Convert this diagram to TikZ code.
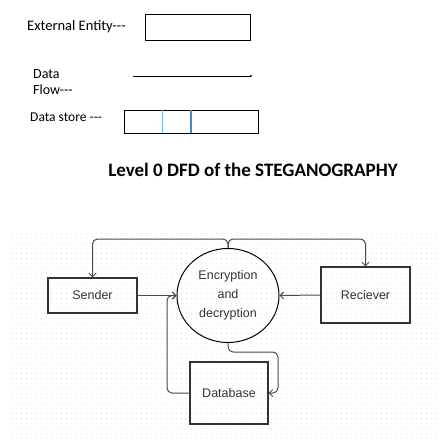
\documentclass[tikz,border=0pt]{standalone}
\usepackage{fontspec}
\setmainfont{Carlito}
\newfontfamily\diagfont{Liberation Sans}
\usetikzlibrary{arrows.meta,shapes.geometric}
\definecolor{linec}{HTML}{4A4A4A}
\definecolor{boxc}{HTML}{333333}
\definecolor{dotc}{HTML}{E4E4E4}
\definecolor{lblue}{HTML}{7FB2E5}
\definecolor{dblue}{HTML}{4A86C8}
\tikzset{
  legtext/.style={font=\fontsize{13.5}{15}\selectfont, anchor=west, inner sep=0pt},
  ent/.style={draw=boxc, line width=1.1pt, minimum width=89pt, minimum height=35pt, inner sep=0pt, font=\diagfont\fontsize{12.5}{14}\selectfont, text=boxc},
  conn/.style={draw=linec, line width=1pt, rounded corners=5pt},
  tip/.style={-{Straight Barb[length=3.5pt,width=7pt,line width=1pt]}}
}
\begin{document}
\begin{tikzpicture}[x=1pt,y=-1pt]
\useasboundingbox (0,0) rectangle (445,442);
% dotted grid
\foreach \yy in {233,238,...,438}
  \draw[dotc, line width=0.9pt, dash pattern=on 0.9pt off 4.1pt] (11,\yy) -- (440,\yy);
% legend
\node[legtext, font=\fontsize{14.5}{16}\selectfont] (lt1) at (27,27) {External Entity-{}-{}-};
\node[draw=black, line width=0.8pt, minimum width=105pt, minimum height=26pt, inner sep=0pt] (lb1) at (197.5,27) {};
\node[legtext, font=\fontsize{14}{15}\selectfont] (lt2) at (33,74) {Data};
\node[legtext, font=\fontsize{14}{15}\selectfont] (lt3) at (33,90) {Flow-{}-{}-};
\coordinate (la1) at (133,76);
\coordinate (la2) at (253,76);
\draw[line width=0.7pt, -{Latex[length=3pt,width=2.2pt]}] (la1) -- (la2);
\node[legtext] (lt4) at (30,117) {Data store -{}-{}-};
\node[draw=black, line width=0.8pt, minimum width=134pt, minimum height=23pt, inner sep=0pt] (lb2) at (191,121.5) {};
\draw[lblue, line width=0.6pt] ([xshift=-29pt]lb2.north) -- ([xshift=-29pt]lb2.south);
\draw[dblue, line width=1.3pt] ([xshift=0pt]lb2.north) -- ([xshift=0pt]lb2.south);
% title
\node[font=\bfseries\fontsize{19}{22}\selectfont, inner sep=0pt] (title) at (253,170) {Level 0 DFD of the STEGANOGRAPHY};
% diagram
\node[ent] (sender) at (92.5,295.5) {Sender};
\node[ent, minimum width=89pt, minimum height=56pt] (recv) at (365.5,295) {Reciever};
\node[ent, minimum width=78pt, minimum height=62pt] (db) at (229,393) {Database};
\node[draw=black, line width=1pt, ellipse, minimum width=102pt, minimum height=94pt, inner sep=0pt,
      font=\diagfont\fontsize{12.5}{19}\selectfont, text=boxc, align=center] (ell) at (228,295.5) {Encryption\\and\\decryption};
\coordinate (top) at (0,239);
\coordinate (jl) at (167,0);
\coordinate (jb) at (278,352);
\draw[conn, tip] (ell.north) -- (ell.north |- top) -| (sender.north);
\draw[conn, tip] (ell.north) -- (ell.north |- top) -| (recv.north);
\draw[conn, tip] (sender.east) -- (ell.west);
\draw[conn, tip] (recv.west) -- (ell.east);
\draw[conn, tip] (db.west) -| (jl |- ell.west) -- (ell.west);
\draw[conn, tip] (ell.south) |- (jb) |- (db.east);
\end{tikzpicture}
\end{document}
